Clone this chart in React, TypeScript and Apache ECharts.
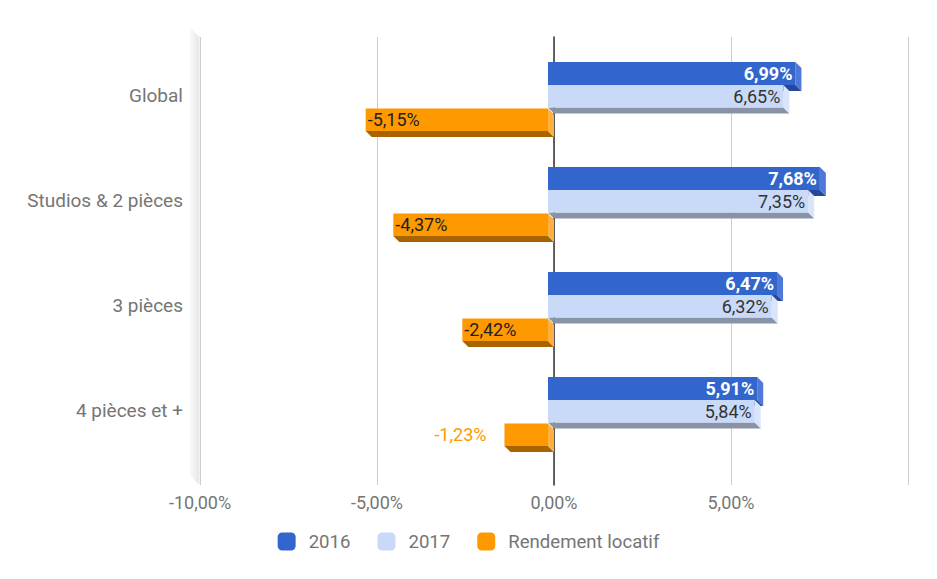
import React, { useEffect, useRef } from 'react';
import * as echarts from 'echarts';

const categories = ['Global', 'Studios & 2 pièces', '3 pièces', '4 pièces et +'];
const seriesNames = ['2016', '2017', 'Rendement locatif'];
const values2016 = [6.99, 7.68, 6.47, 5.91];
const values2017 = [6.65, 7.35, 6.32, 5.84];
const valuesRendement = [-5.15, -4.37, -2.42, -1.23];
const axisMin = -10;
const axisMax = 10;
const axisStep = 5;
const hiddenTickLabels = [10];

const seriesValues = [values2016, values2017, valuesRendement];

const looks = [
  { front: '#3366cc', side: '#4f78d8', bottom: '#27489a', label: '#ffffff', weight: 'bold', band: [-33, -10] },
  { front: '#c9daf8', side: '#d9e5fa', bottom: '#8993a7', label: '#333333', weight: 'normal', band: [-10, 12.5] },
  { front: '#ff9900', side: '#ffb03f', bottom: '#a86400', label: '#222222', weight: 'normal', band: [13.5, 36] },
];

const fmt = (v: number) => v.toFixed(2).replace('.', ',') + '%';

const makeRender = (s: number) => (params: any, api: any) => {
  const v = api.value(0) as number;
  const ci = api.value(1) as number;
  const p0 = api.coord([0, ci]);
  const p1 = api.coord([v, ci]);
  const scale = api.size([0, 1])[1] / 105;
  const D = 6;
  const st = looks[s];
  const c = p0[1];
  const ft = c + st.band[0] * scale;
  const fb = c + st.band[1] * scale;
  const fx0 = Math.min(p0[0], p1[0]) - D;
  const fx1 = Math.max(p0[0], p1[0]) - D;
  const text = fmt(v);
  const cy = (ft + fb) / 2;
  let lx: number;
  let align: string;
  let fill = st.label;
  if (v >= 0) {
    lx = fx1 - 3;
    align = 'right';
  } else {
    const tw = text.length * 9.2;
    if (fx1 - fx0 > tw + 8) {
      lx = fx0 + 2;
      align = 'left';
    } else {
      lx = fx0 - 18;
      align = 'right';
      fill = st.front;
    }
  }
  return {
    type: 'group',
    children: [
      {
        type: 'polygon',
        shape: { points: [[fx0, fb], [fx1, fb], [fx1 + D, fb + D], [fx0 + D, fb + D]] },
        style: { fill: st.bottom },
      },
      {
        type: 'polygon',
        shape: { points: [[fx1, ft], [fx1 + D, ft + D], [fx1 + D, fb + D], [fx1, fb]] },
        style: { fill: st.side },
      },
      {
        type: 'rect',
        shape: { x: fx0, y: ft, width: fx1 - fx0, height: fb - ft },
        style: { fill: st.front },
      },
      {
        type: 'text',
        style: {
          text,
          x: lx,
          y: cy,
          fill,
          font: `${st.weight} 18px Roboto`,
          align,
          verticalAlign: 'middle',
          textAlign: align,
          textVerticalAlign: 'middle',
        },
      },
    ],
  };
};

export default function App() {
  const ref = useRef<HTMLDivElement>(null);
  useEffect(() => {
    if (!ref.current) return;
    const chart = echarts.init(ref.current, null, { renderer: 'svg' });
    const option: any = {
      animation: false,
      backgroundColor: '#ffffff',
      textStyle: { fontFamily: 'Roboto' },
      grid: [
        { left: 200, right: 29, top: 37, height: 448 },
        { left: 200, right: 29, top: 42.5, height: 420 },
      ],
      xAxis: [
        {
          gridIndex: 0,
          type: 'value',
          min: axisMin,
          max: axisMax,
          interval: axisStep,
          axisLine: { show: false, onZero: false },
          axisTick: { show: false },
          splitLine: { show: true, lineStyle: { color: '#cccccc', width: 1 } },
          axisLabel: {
            color: '#757575',
            fontSize: 18,
            margin: 8,
            formatter: (v: number) => (hiddenTickLabels.includes(v) ? '' : fmt(v)),
          },
        },
        { gridIndex: 1, type: 'value', min: axisMin, max: axisMax, show: false },
      ],
      yAxis: [
        {
          gridIndex: 0,
          type: 'value',
          min: 0,
          max: 1,
          axisLine: { show: true, onZero: true, lineStyle: { color: '#333333', width: 1.5 } },
          axisTick: { show: false },
          axisLabel: { show: false },
          splitLine: { show: false },
        },
        {
          gridIndex: 1,
          type: 'category',
          data: categories,
          inverse: true,
          axisLine: { show: false },
          axisTick: { show: false },
          splitLine: { show: false },
          axisLabel: { color: '#757575', fontSize: 19, margin: 17 },
        },
      ],
      legend: {
        data: seriesNames,
        top: 527,
        left: 'center',
        itemWidth: 18,
        itemHeight: 18,
        itemGap: 27,
        icon: 'roundRect',
        textStyle: { color: '#757575', fontSize: 18.6, padding: [0, 0, 0, 8] },
      },
      graphic: [
        {
          type: 'polygon',
          z: -1,
          shape: { points: [[190, 28], [199.5, 37], [199.5, 485], [190, 476]] },
          style: {
            fill: new echarts.graphic.LinearGradient(0, 0, 1, 0, [
              { offset: 0, color: '#fafafa' },
              { offset: 1, color: '#e6e6e6' },
            ]),
          },
        },
      ],
      series: seriesNames.map((name, s) => ({
        name,
        type: 'custom',
        xAxisIndex: 1,
        yAxisIndex: 1,
        clip: false,
        itemStyle: { color: looks[s].front },
        encode: { x: 0, y: 1 },
        data: seriesValues[s].map((v, i) => [v, i]),
        renderItem: makeRender(s),
      })),
    };
    chart.setOption(option);
    return () => chart.dispose();
  }, []);
  return (
    <div
      ref={ref}
      style={{ position: 'fixed', left: 0, top: 0, width: 937, height: 579 }}
    />
  );
}
